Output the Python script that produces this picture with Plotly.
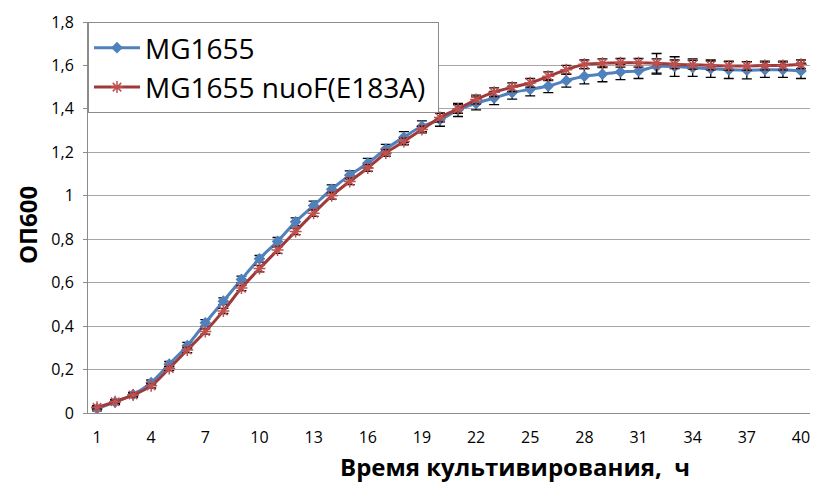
import plotly.graph_objects as go

hours = list(range(1, 41))

mg1655 = [0.02, 0.05, 0.085, 0.14, 0.225, 0.31, 0.415, 0.515, 0.615, 0.71,
          0.79, 0.88, 0.955, 1.03, 1.095, 1.15, 1.215, 1.27, 1.32, 1.35,
          1.395, 1.425, 1.45, 1.475, 1.49, 1.505, 1.53, 1.55, 1.56, 1.57,
          1.575, 1.595, 1.595, 1.59, 1.585, 1.58, 1.578, 1.58, 1.58, 1.575]
mg1655_err = [0.01, 0.01, 0.01, 0.012, 0.012, 0.015, 0.015, 0.015, 0.015, 0.015,
              0.018, 0.018, 0.02, 0.02, 0.02, 0.022, 0.022, 0.025, 0.025, 0.03,
              0.03, 0.03, 0.03, 0.03, 0.03, 0.03, 0.03, 0.035, 0.035, 0.035,
              0.035, 0.035, 0.045, 0.04, 0.04, 0.04, 0.04, 0.035, 0.035, 0.035]

nuof = [0.026, 0.052, 0.083, 0.125, 0.205, 0.29, 0.375, 0.47, 0.575, 0.665,
        0.75, 0.836, 0.92, 1.0, 1.066, 1.128, 1.197, 1.25, 1.305, 1.36,
        1.40, 1.443, 1.477, 1.50, 1.52, 1.55, 1.58, 1.605, 1.61, 1.612,
        1.612, 1.61, 1.605, 1.603, 1.60, 1.598, 1.598, 1.60, 1.60, 1.605]
nuof_err = [0.008, 0.008, 0.01, 0.01, 0.01, 0.012, 0.012, 0.012, 0.012, 0.015,
            0.015, 0.015, 0.015, 0.015, 0.015, 0.015, 0.015, 0.015, 0.015, 0.02,
            0.02, 0.02, 0.02, 0.02, 0.02, 0.02, 0.02, 0.02, 0.02, 0.02,
            0.02, 0.045, 0.02, 0.02, 0.02, 0.02, 0.02, 0.02, 0.02, 0.02]

x_ticks = list(range(1, 41, 3))

fig = go.Figure()
fig.add_trace(go.Scatter(
    x=hours, y=mg1655, name="MG1655", mode="lines+markers",
    line=dict(color="#4F81BD", width=3, shape="spline"),
    marker=dict(symbol="diamond", size=9, color="#4F81BD"),
    error_y=dict(type="data", array=mg1655_err, color="black", thickness=1.3, width=5),
))
fig.add_trace(go.Scatter(
    x=hours, y=nuof, name="MG1655 nuoF(E183A) ", mode="lines+markers",
    line=dict(color="#A0393A", width=3, shape="spline"),
    marker=dict(symbol="asterisk-open", size=10, color="#C0504D",
                line=dict(color="#C0504D", width=1.5)),
    error_y=dict(type="data", array=nuof_err, color="black", thickness=1.3, width=5),
))

fig.update_layout(
    width=813, height=478,
    margin=dict(l=80, r=11, t=14, b=73),
    paper_bgcolor="white", plot_bgcolor="white",
    separators=", ",
    font=dict(family="Open Sans, Liberation Sans, sans-serif", color="black"),
    showlegend=True,
    legend=dict(x=0, y=1, xanchor="left", yanchor="top",
                bgcolor="white", bordercolor="#8c8c8c", borderwidth=1,
                font=dict(size=28), tracegroupgap=0, itemwidth=46),
    xaxis=dict(
        automargin=False,
        range=[0.5, 40.5], tickmode="array", tickvals=x_ticks,
        ticktext=[str(v) for v in x_ticks],
        showgrid=False, zeroline=False,
        showline=True, linecolor="#8c8c8c", linewidth=1,
        ticks="", tickfont=dict(size=16), ticklabelstandoff=10,
    ),
    yaxis=dict(
        automargin=False,
        range=[0, 1.8], dtick=0.2, tick0=0,
        showgrid=True, gridcolor="#a6a6a6", gridwidth=1,
        zeroline=False,
        showline=True, linecolor="#8c8c8c", linewidth=1,
        ticks="outside", ticklen=4, tickcolor="#8c8c8c",
        tickfont=dict(size=16), ticklabelstandoff=6,
    ),
    annotations=[
        dict(text="<b>Время культивирования,  ч</b>", xref="paper", yref="paper",
             x=0.591, y=-0.136, xanchor="center", yanchor="middle",
             showarrow=False, font=dict(size=24)),
        dict(text="<b>ОП600</b>", xref="paper", yref="paper",
             x=-0.083, y=0.481, xanchor="center", yanchor="middle",
             textangle=-90, showarrow=False, font=dict(size=24)),
    ],
)

fig.write_html("out.html")
